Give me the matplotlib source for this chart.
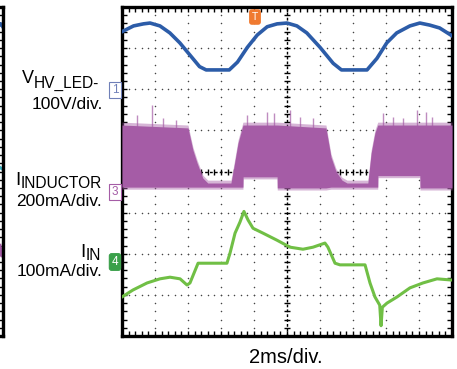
import numpy as np
import matplotlib
matplotlib.use("Agg")
import matplotlib.pyplot as plt
from matplotlib.ticker import MultipleLocator

plt.rcParams['font.family'] = ['Liberation Sans', 'DejaVu Sans']

# time in ms (2 ms/div, 10 div), traces in screen divisions (-4..4)
# V_HV_LED, 100V/div
t_vhv = [0.0, 0.7, 1.3, 1.7, 2.3, 2.9, 3.5, 4.1, 4.7, 5.1, 6.5, 7.0, 7.6, 8.2, 8.8,
         9.4, 10.0, 10.6, 11.2, 12.0, 12.8, 13.3, 14.85, 15.45, 16.05, 16.65, 17.45,
         18.05, 18.65, 19.25, 20.0]
v_vhv = [3.40, 3.54, 3.59, 3.61, 3.54, 3.37, 3.13, 2.84, 2.55, 2.47, 2.47, 2.66, 3.02,
         3.32, 3.52, 3.59, 3.61, 3.54, 3.37, 3.02, 2.63, 2.47, 2.47, 2.75, 3.13, 3.37,
         3.54, 3.61, 3.56, 3.49, 3.30]

# I_INDUCTOR, 200mA/div - envelope of the switching ripple
t_ind = [0.0, 4.0, 4.3, 4.55, 4.9, 5.2, 6.6, 6.73, 7.03, 7.33, 7.34, 9.4, 9.41, 12.36,
         12.67, 12.97, 13.33, 13.64, 14.9, 15.1, 15.33, 15.5, 15.51, 18.05, 18.06, 20.0]
ind_hi = [1.13, 1.06, 0.52, 0.21, -0.16, -0.28, -0.28, -0.01, 0.69, 1.13, 1.13, 1.13,
          1.13, 1.06, 0.35, 0.0, -0.21, -0.28, -0.28, 0.45, 0.94, 1.13, 1.13, 1.13,
          1.13, 1.13]
ind_lo = [-0.38, -0.38, -0.38, -0.38, -0.38, -0.38, -0.38, -0.38, -0.38, -0.38, -0.13,
          -0.13, -0.40, -0.40, -0.38, -0.38, -0.38, -0.38, -0.38, -0.38, -0.38, -0.38,
          -0.10, -0.10, -0.40, -0.40]
spike_t = [0.9, 1.82, 2.5, 3.3, 7.6, 8.8, 9.2, 10.2, 10.8, 11.6, 15.8, 16.4, 17.0,
           17.9, 18.4, 18.8]
spike_top = [1.37, 1.62, 1.30, 1.25, 1.37, 1.45, 1.42, 1.50, 1.33, 1.30, 1.42, 1.33,
             1.30, 1.50, 1.45, 1.33]

# I_IN, 100mA/div
t_in = [0.0, 0.67, 1.52, 2.30, 2.91, 3.52, 3.94, 4.12, 4.61, 4.91, 6.36, 6.55, 6.85,
        7.15, 7.39, 7.64, 7.94, 8.55, 9.39, 10.18, 10.97, 11.58, 12.30, 12.48, 12.91,
        13.21, 14.73, 15.03, 15.33, 15.62, 15.70, 15.78, 16.06, 16.67, 17.45, 18.24,
        19.09, 20.0]
i_in = [-3.05, -2.88, -2.71, -2.61, -2.57, -2.61, -2.76, -2.71, -2.23, -2.23, -2.23,
        -1.98, -1.50, -1.23, -0.97, -1.18, -1.38, -1.50, -1.67, -1.84, -1.89, -1.84,
        -1.74, -1.84, -2.23, -2.27, -2.27, -2.71, -3.05, -3.25, -3.75, -3.30, -3.20,
        -3.05, -2.83, -2.71, -2.61, -2.64]

blue = '#2c5ca8'
purple = '#a55ca6'
green = '#70bf45'

W, H = 457, 369
fig = plt.figure(figsize=(W / 100, H / 100), dpi=100)

def fx(px):
    return px / W

def fy(py):
    return 1 - py / H

ax = fig.add_axes([fx(122), fy(336), fx(452) - fx(122), fy(7) - fy(336)])
ax.set_xlim(0, 20)
ax.set_ylim(-4, 4)

# graticule
for gx in np.arange(2, 20, 2):
    if gx == 10:
        continue
    ys = np.arange(-4, 4.01, 0.2)
    ax.plot(np.full_like(ys, gx), ys, ls='none', marker='o', ms=1.1, mew=0, color='#444444', zorder=1)
for gy in np.arange(-3, 4, 1):
    if gy == 0:
        continue
    xs = np.arange(0, 20.01, 0.4)
    ax.plot(xs, np.full_like(xs, gy), ls='none', marker='o', ms=1.1, mew=0, color='#444444', zorder=1)
ax.axvline(10, color='black', lw=1.0, ls=(0, (2, 1.5)), zorder=1)
ax.axhline(0, color='black', lw=1.0, ls=(0, (2, 1.5)), zorder=1)
ys = np.arange(-4, 4.01, 0.2)
ax.plot(np.full_like(ys, 10), ys, ls='none', marker='_', ms=5, mew=1.0, color='black', zorder=1)
xs = np.arange(0, 20.01, 0.4)
ax.plot(xs, np.zeros_like(xs), ls='none', marker='|', ms=5, mew=1.0, color='black', zorder=1)

# traces
ax.plot(t_vhv, v_vhv, color=blue, lw=2.6, zorder=3, solid_joinstyle='round')
ax.fill_between(t_ind, np.array(ind_lo) - 0.05, np.array(ind_hi) + 0.07,
                color=purple, alpha=0.45, lw=0, zorder=3)
ax.fill_between(t_ind, ind_lo, ind_hi, color=purple, lw=0, zorder=3)
ax.vlines(spike_t, 1.05, spike_top, color=purple, lw=1.0, alpha=0.7, zorder=3)
ax.plot(t_in, i_in, color=green, lw=2.2, zorder=3, solid_joinstyle='round')

ax.xaxis.set_major_locator(MultipleLocator(2))
ax.xaxis.set_minor_locator(MultipleLocator(0.4))
ax.yaxis.set_major_locator(MultipleLocator(1))
ax.yaxis.set_minor_locator(MultipleLocator(0.2))
ax.tick_params(which='both', direction='in', length=3.5, width=1.0, top=True, right=True,
               labelbottom=False, labelleft=False)
for s in ax.spines.values():
    s.set_linewidth(2.4)

# neighbouring panel, only its right edge is visible
ax2 = fig.add_axes([fx(-60), fy(336), fx(3) - fx(-60), fy(7) - fy(336)])
ax2.set_xlim(0, 1)
ax2.set_ylim(-4, 4)
ax2.plot([0.9, 0.96, 1.0], [3.45, 3.6, 3.5], color=blue, lw=2.2)
ax2.plot([0.93, 1.0], [0.12, 0.05], color='#3fb4c4', lw=2.2)
ax2.plot([0.95, 0.98, 1.0], [-1.8, -2.05, -1.95], color=purple, lw=2.4)
ax2.yaxis.set_major_locator(MultipleLocator(1))
ax2.yaxis.set_minor_locator(MultipleLocator(0.2))
ax2.tick_params(axis='y', which='both', direction='in', length=3.5, width=1.0,
                left=False, right=True, labelleft=False)
ax2.tick_params(axis='x', which='both', bottom=False, labelbottom=False)
ax2.spines['left'].set_visible(False)
for s in ax2.spines.values():
    s.set_linewidth(2.4)

# channel labels: main letter + subscript placed by hand
renderer = fig.canvas.get_renderer()

def sub_label(xr, base, sub_base, main, sub, main_fs=13.5, sub_fs=11.2):
    st = fig.text(fx(xr), fy(sub_base), sub, ha='right', va='baseline', fontsize=sub_fs)
    bb = st.get_window_extent(renderer)
    fig.text(bb.x0 / W, fy(base), main, ha='right', va='baseline', fontsize=main_fs)

fs = 12.5
sub_label(99, 83, 88, 'V', 'HV_LED-', main_fs=13)
fig.text(fx(103), fy(109), '100V/div.', ha='right', va='baseline', fontsize=fs)
sub_label(102, 185, 188, 'I', 'INDUCTOR')
fig.text(fx(102), fy(206), '200mA/div.', ha='right', va='baseline', fontsize=fs)
sub_label(101, 257, 260, 'I', 'IN')
fig.text(fx(102), fy(276), '100mA/div.', ha='right', va='baseline', fontsize=fs)
fig.text(fx(286), fy(363), '2ms/div.', ha='center', va='baseline', fontsize=14.5)

# channel ground markers and trigger marker
fig.text(fx(115), fy(90), '1', ha='center', va='center', fontsize=8.5, color='#7080b8',
         bbox=dict(boxstyle='square,pad=0.2', fc='white', ec='#7080b8', lw=0.8))
fig.text(fx(115), fy(192), '3', ha='center', va='center', fontsize=8.5, color=purple,
         bbox=dict(boxstyle='square,pad=0.2', fc='white', ec=purple, lw=0.8))
fig.text(fx(115), fy(262), '4', ha='center', va='center', fontsize=8.5, color='white',
         bbox=dict(boxstyle='round,pad=0.2', fc='#3aa04a', ec='#3aa04a', lw=0.8))
fig.text(fx(255), fy(17), 'T', ha='center', va='center', fontsize=7.5, color='white',
         bbox=dict(boxstyle='round,pad=0.2', fc='#f07a30', ec='#f07a30'))

fig.savefig('out.png', dpi=100)
